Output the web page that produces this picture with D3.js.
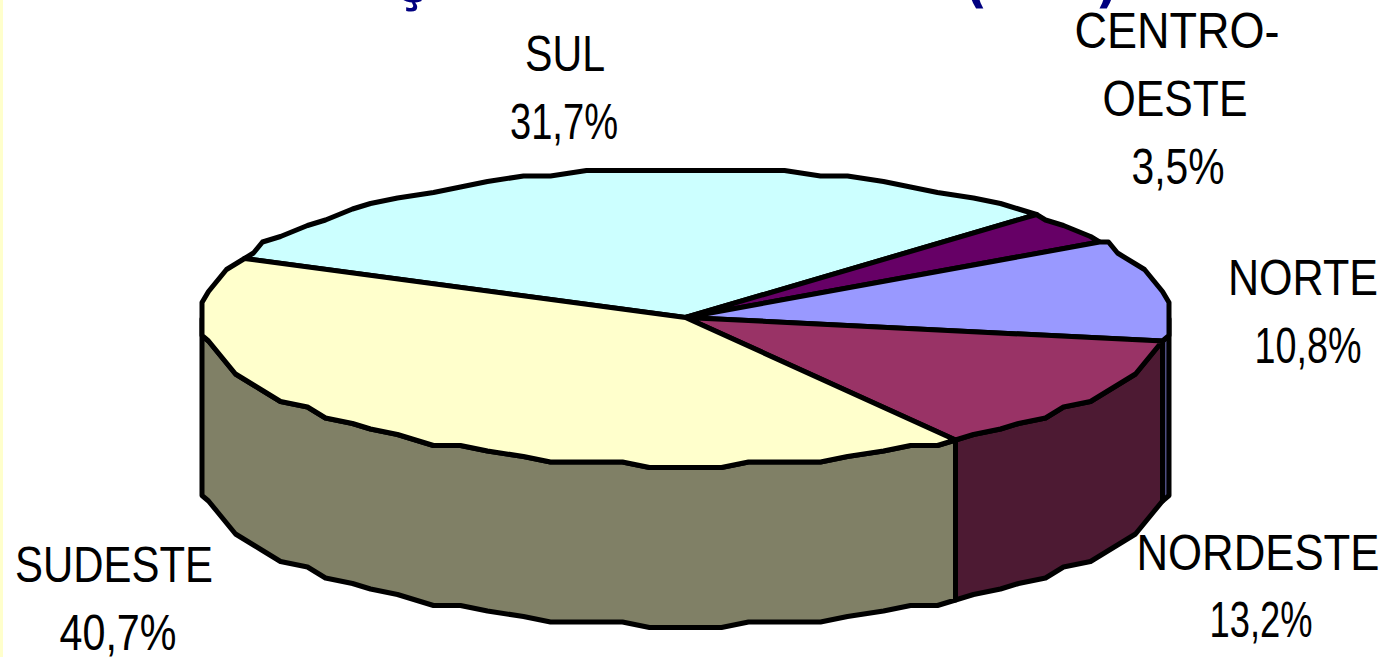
<!DOCTYPE html>
<html>
<head>
<meta charset="utf-8">
<script src="https://cdn.jsdelivr.net/npm/d3@7"></script>
<style>
  html, body { margin: 0; padding: 0; background: #fff; overflow: hidden; }
  svg { display: block; }
  text { font-family: "Liberation Sans", Arial, sans-serif; }
</style>
</head>
<body>
<div id="chart"></div>
<script>
// data, clockwise from the SUL slice
const regions = ["SUL", "CENTRO-OESTE", "NORTE", "NORDESTE", "SUDESTE"]
const shares = [31.7, 3.5, 10.8, 13.2, 40.7]
const shareLabels = ["31,7%", "3,5%", "10,8%", "13,2%", "40,7%"]
const colors = ["#ccffff", "#660066", "#9999ff", "#993366", "#ffffcc"]

const width = 1389, height = 657
const cx = 685.5, cy = 317.5, rx = 483.5, ry = 148, depth = 160
const gridX = 9, gridY = 5.5
const rad = Math.PI / 180
const startDeg = -67
const stepDeg = 4

const svg = d3.select("#chart").append("svg")
    .attr("width", width)
    .attr("height", height)

svg.append("rect")
    .attr("width", 3)
    .attr("height", height)
    .attr("fill", "#ffffcc")

// only the bottoms of the cut off title still show
const titleBits = [["ç", 410], ["(", 976], [")", 1107]]
svg.selectAll("text.title")
    .data(titleBits)
    .enter()
    .append("text")
    .attr("class", "title")
    .attr("x", d => d[1])
    .attr("y", 2)
    .attr("text-anchor", "middle")
    .attr("font-size", 50)
    .attr("font-weight", "bold")
    .attr("fill", "#000080")
    .style("font-family", "'DejaVu Sans'")
    .text(d => d[0])

const pie = d3.pie()
    .sort(null)
    .startAngle(startDeg * rad)
    .endAngle((startDeg + 360) * rad)

const slices = pie(shares)

// a point on the rim, snapped to a coarse grid so the edge comes out stepped
function rim(a, dy) {
    const x = rx * Math.sin(a), y = ry * Math.cos(a)
    const sx = Math.abs(x) > rx - gridX / 2 ? Math.sign(x) * rx : Math.round(x / gridX) * gridX
    return [cx + sx, Math.round((cy - y) / gridY) * gridY + dy]
}

// fixed angle steps, so walls and tops share the same rim points
function arcPoints(a0, a1, dy) {
    const s = stepDeg * rad
    const mids = d3.range(Math.ceil(a0 / s + 1e-6), Math.floor(a1 / s - 1e-6) + 1).map(k => k * s)
    return [a0, ...mids, a1].map(a => rim(a, dy))
}

const line = d3.line()

const halved = c => {
    const k = d3.rgb(c)
    return d3.rgb(k.r / 2, k.g / 2, k.b / 2).formatHex()
}

// side walls: only the front half of the rim faces us
const frontFrom = 90 * rad, frontTo = 270 * rad
const walls = slices
    .map((d, i) => ({
        a0: Math.max(d.startAngle, frontFrom),
        a1: Math.min(d.endAngle, frontTo),
        color: halved(colors[i])
    }))
    .filter(d => d.a1 > d.a0)

svg.selectAll("path.wall")
    .data(walls)
    .enter()
    .append("path")
    .attr("class", "wall")
    .attr("d", d => line(arcPoints(d.a0, d.a1, 0)
        .concat(arcPoints(d.a0, d.a1, depth).reverse())) + "Z")
    .attr("fill", d => d.color)
    .attr("stroke", "#000")
    .attr("stroke-width", 5)
    .attr("stroke-linejoin", "round")

svg.selectAll("path.slice")
    .data(slices)
    .enter()
    .append("path")
    .attr("class", "slice")
    .attr("d", d => line([[cx, cy]].concat(arcPoints(d.startAngle, d.endAngle, 0))) + "Z")
    .attr("fill", (d, i) => colors[i])
    .attr("stroke", "#000")
    .attr("stroke-width", 5)
    .attr("stroke-linejoin", "round")

// label lines, text then where it sits in the picture
const labelLines = [
    [regions[0], 565, 71, 80],
    [shareLabels[0], 564, 139, 108],
    ["CENTRO-", 1177, 48, 205],
    ["OESTE", 1175, 116, 145],
    [shareLabels[1], 1178, 184, 93],
    [regions[2], 1303, 295, 150],
    [shareLabels[2], 1308, 363, 107],
    [regions[3], 1258, 570, 243],
    [shareLabels[3], 1261, 637, 103],
    [regions[4], 114, 582, 198],
    [shareLabels[4], 118, 650, 117]
]

svg.selectAll("text.label")
    .data(labelLines)
    .enter()
    .append("text")
    .attr("class", "label")
    .attr("x", d => d[1])
    .attr("y", d => d[2])
    .attr("text-anchor", "middle")
    .attr("font-size", 50)
    .attr("fill", "#000")
    .attr("textLength", d => d[3])
    .attr("lengthAdjust", "spacingAndGlyphs")
    .text(d => d[0])
</script>
</body>
</html>
